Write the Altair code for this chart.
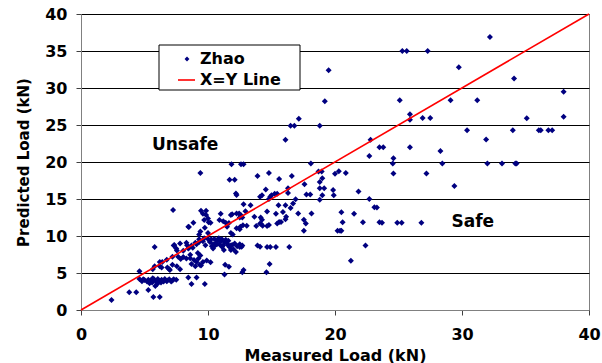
import altair as alt
import pandas as pd

# Measured vs predicted load (kN) for the "Zhao" series
MEASURED = [
    2.4, 3.8, 4.35, 5.3, 5.7, 6.2, 4.6, 5.8, 7.25,
    4.6, 4.8, 5.0, 5.2, 5.3, 5.5, 5.6, 5.75, 5.9, 6.0, 6.05, 6.2, 6.35, 6.5, 6.6, 6.8, 6.95, 7.1, 7.3, 7.5,
    5.85, 5.4, 6.3, 4.9, 5.65, 6.1, 6.75, 7.2,
    5.65, 5.8, 6.2, 6.35, 6.8, 6.95, 7.2, 6.4, 6.75, 6.2, 7.0, 7.55, 7.8,
    7.3, 7.55, 7.35, 7.5, 7.8, 8.3, 8.35, 8.05, 8.6, 7.2, 7.65, 7.85, 8.05, 8.3, 8.6, 8.9, 9.1, 9.25, 9.4,
    9.2, 9.45, 9.6, 9.9, 10.2, 8.7, 9.0, 9.35,
    8.45, 9.1, 8.7, 9.75,
    8.45, 8.85, 9.45, 9.85, 9.3, 9.85, 10.05, 9.75, 9.4, 9.6, 9.7, 10.0, 10.2, 9.4, 10.0,
    8.8, 8.5, 9.0, 9.3, 9.6, 9.8, 10.0, 10.15, 10.3, 10.4, 8.45, 8.7, 9.1, 9.3, 9.7, 10.25, 10.4, 10.55,
    10.7, 10.95, 11.1, 11.25,
    10.5, 10.7, 10.85, 11.0, 11.1, 11.3, 11.4, 11.5, 11.6, 10.6, 10.9, 11.2, 11.7, 11.9, 12.1, 12.3, 12.5,
    12.7, 12.0, 11.8, 12.2, 11.6, 11.8, 12.5, 12.65,
    11.3, 11.65, 11.35, 12.8, 12.7,
    11.85, 12.6, 12.8, 11.7, 12.1, 12.2, 12.25,
    12.8, 13.35, 12.95, 12.45, 12.6, 12.25, 11.9, 11.8, 12.5, 12.7, 12.55, 12.75, 12.25, 12.5,
    11.0, 10.9, 11.2, 11.4, 11.65, 11.5, 8.5, 11.8, 11.95, 13.05,
    13.65, 14.15, 14.25, 14.1, 13.8, 14.2, 14.3,
    13.9, 14.8, 15.6, 16.6, 17.6, 18.7, 18.95, 19.0, 18.8, 20.0, 20.3, 20.85, 21.85, 18.8, 19.15, 19.0,
    18.8, 19.85, 19.9, 22.7, 23.1, 20.5, 20.6, 21.5, 22.2, 23.5, 20.2, 20.4, 20.5, 22.4, 21.25,
    18.15, 17.7, 17.55, 17.55, 17.1, 16.9, 16.7, 17.75, 18.05, 16.3, 16.3, 14.1, 14.25, 14.55, 14.8, 14.9,
    15.0, 15.25, 15.45, 15.55, 16.1, 16.5, 15.9, 14.65, 15.35, 15.6, 15.45, 15.75, 16.1, 16.15, 14.8, 14.65,
    13.9, 14.1, 14.65, 14.9, 15.35, 16.4, 14.85, 14.6,
    17.15, 16.5, 16.8, 18.8, 16.1, 18.1, 19.2, 19.5, 22.7, 22.8, 23.5, 23.8,
    32.2, 25.3, 25.65, 27.3, 29.75, 34.1, 38.0, 25.1, 29.1, 31.2, 25.9, 25.9, 26.9, 27.5, 35.1, 38.0,
    30.4, 34.0, 36.05, 36.2, 36.8, 37.1, 31.9, 25.9, 24.6, 28.3, 28.45, 24.55, 32.0, 33.15, 34.2, 34.3,
    24.6, 27.2, 29.4, 23.7, 24.9, 25.25, 26.8, 23.3,
]
PREDICTED = [
    1.35, 2.4, 2.4, 2.7, 1.75, 1.75, 5.25, 8.5, 13.5,
    4.2, 3.9, 4.05, 3.85, 4.1, 4.0, 3.7, 4.15, 3.9, 3.5, 4.2, 3.95, 4.1, 3.85, 4.2, 4.0, 4.15, 3.85, 4.15, 4.1,
    3.25, 3.6, 3.7, 4.15, 4.3, 4.0, 3.9, 4.0,
    5.5, 5.9, 5.9, 5.75, 5.75, 5.5, 6.1, 6.5, 6.8, 6.5, 5.4, 5.9, 5.5,
    8.7, 8.05, 8.8, 8.3, 9.0, 9.1, 8.75, 8.0, 7.45, 7.2, 7.2, 6.9, 7.15, 6.95, 7.0, 6.75, 6.5, 6.95, 7.35,
    7.7, 6.0, 6.5, 6.7, 6.45, 6.2, 5.9, 6.1,
    4.4, 4.4, 3.5, 3.5,
    11.25, 11.8, 13.4, 13.4, 10.2, 12.85, 11.85, 11.1, 18.5, 13.0, 12.15, 12.35, 11.8, 10.6, 10.4,
    8.4, 8.4, 9.1, 9.2, 9.3, 8.75, 9.6, 9.2, 8.6, 8.3, 8.3, 8.7, 8.9, 9.55, 9.7, 9.55, 8.9, 8.7,
    8.9, 9.25, 8.55, 8.1,
    9.6, 9.4, 9.7, 9.3, 9.55, 9.2, 9.5, 9.0, 9.35, 9.0, 8.9, 8.75, 8.5, 8.8, 9.0, 8.6, 8.9,
    8.7, 8.2, 8.1, 7.85, 8.7, 8.7, 8.5, 8.55,
    4.8, 5.85, 6.1, 5.4, 5.1,
    19.7, 19.7, 19.7, 17.6, 17.6, 15.75, 15.55,
    14.3, 14.15, 13.35, 13.05, 12.8, 13.05, 12.95, 12.85, 12.5, 12.5, 11.25, 11.45, 11.05, 10.9,
    13.0, 12.15, 12.0, 11.8, 11.75, 11.25, 11.2, 10.4, 10.2, 11.4,
    12.6, 12.5, 12.2, 11.7, 11.35, 11.6, 11.4,
    18.1, 18.5, 17.7, 18.1, 17.0, 18.7, 18.7, 17.8, 17.3, 18.4, 18.75, 18.5, 16.0, 16.45, 16.45, 15.5,
    14.9, 16.2, 15.5, 15.0, 13.9, 13.2, 11.85, 13.0, 11.85, 11.85, 10.7, 10.7, 10.7, 8.7, 6.65,
    13.05, 11.7, 10.7, 12.2, 13.05, 14.95, 14.4, 15.6, 15.6, 16.45, 15.8, 15.3, 15.5, 16.3, 15.0, 15.3,
    15.5, 15.7, 15.7, 14.15, 14.15, 13.8, 13.25, 13.3, 13.0, 11.9, 11.7, 11.9, 12.25, 12.6, 11.5, 11.35,
    8.7, 8.55, 8.5, 8.5, 8.5, 8.5, 6.2, 5.1,
    25.85, 24.9, 24.9, 24.9, 23.0, 19.8, 28.2, 32.4, 20.8, 23.0, 22.0, 22.0,
    36.9, 35.0, 35.0, 35.0, 32.8, 31.3, 29.5, 28.35, 28.35, 28.35, 26.45, 25.7, 25.95, 25.95, 25.9, 26.1,
    24.3, 24.3, 24.3, 24.3, 24.3, 24.3, 23.05, 22.0, 20.5, 21.5, 19.8, 19.8, 19.8, 19.8, 19.8, 19.8,
    18.45, 18.45, 16.75, 11.8, 11.8, 11.8, 11.8, 13.85,
]

# Reference line where predicted equals measured
XY_LINE = [0, 40]

# Region annotations
REGION_TEXT = ["Unsafe", "Safe"]
REGION_X = [8.2, 30.85]
REGION_Y = [22.3, 11.9]

SERIES_NAMES = ["Zhao", "X=Y Line"]

X_TICKS = [0, 10, 20, 30, 40]
Y_TICKS = [0, 5, 10, 15, 20, 25, 30, 35, 40]

NAVY = "#000080"
RED = "#FF0000"
FONT = "DejaVu Sans"

points_df = pd.DataFrame({"measured": MEASURED, "predicted": PREDICTED})
line_df = pd.DataFrame({"measured": XY_LINE, "predicted": XY_LINE})
region_df = pd.DataFrame({"label": REGION_TEXT, "x": REGION_X, "y": REGION_Y})
one_row = pd.DataFrame({"k": [0]})

x_scale = alt.Scale(domain=[0, 40], nice=False, zero=True)
y_scale = alt.Scale(domain=[0, 40], nice=False, zero=True)

x_axis = alt.Axis(
    values=X_TICKS, tickCount=5, grid=False, title="Measured Load (kN)",
    titleX=254, titleY=50, titleBaseline="alphabetic", titleFontSize=16,
    labelPadding=11, labelOverlap=False, labelFlush=False,
)
y_axis = alt.Axis(
    values=Y_TICKS, tickCount=9, grid=True, title="Predicted Load (kN)",
    titleX=-58, titleY=148, titleAngle=270, titleBaseline="middle", titleAlign="center",
    titleFontSize=15, labelPadding=9, labelOverlap=False, labelFlush=False,
)


def xy(xfield, yfield):
    """Shared positional encodings so every layer uses the same scales and axes."""
    return dict(
        x=alt.X(xfield, type="quantitative", scale=x_scale, axis=x_axis),
        y=alt.Y(yfield, type="quantitative", scale=y_scale, axis=y_axis),
    )


scatter = alt.Chart(points_df).mark_point(
    shape="diamond", filled=True, size=36, color=NAVY, opacity=1
).encode(**xy("measured", "predicted"))

xy_line = alt.Chart(line_df).mark_line(color=RED, strokeWidth=1.6).encode(
    **xy("measured", "predicted")
)

regions = alt.Chart(region_df).mark_text(
    font=FONT, fontWeight="bold", fontSize=17, color="black", align="center", baseline="middle"
).encode(text="label:N", **xy("x", "y"))

# Legend box drawn inside the plot area
legend_box = alt.Chart(one_row).mark_rect(
    fill="white", stroke="black", strokeWidth=1
).encode(x=alt.value(78), x2=alt.value(219), y=alt.value(31), y2=alt.value(76))

legend_marker = alt.Chart(one_row).mark_point(
    shape="diamond", filled=True, size=24, color=NAVY, opacity=1
).encode(x=alt.value(106), y=alt.value(45))

legend_line = alt.Chart(one_row).mark_rule(color=RED, strokeWidth=1.6).encode(
    x=alt.value(97), x2=alt.value(114), y=alt.value(66)
)

legend_text_1 = alt.Chart(one_row).mark_text(
    font=FONT, fontWeight="bold", fontSize=16, align="left", baseline="middle", color="black"
).encode(x=alt.value(119), y=alt.value(45), text=alt.value(SERIES_NAMES[0]))

legend_text_2 = alt.Chart(one_row).mark_text(
    font=FONT, fontWeight="bold", fontSize=16, align="left", baseline="middle", color="black"
).encode(x=alt.value(119), y=alt.value(66), text=alt.value(SERIES_NAMES[1]))

chart = alt.layer(
    scatter, xy_line, regions, legend_box, legend_marker, legend_line, legend_text_1, legend_text_2
).properties(
    width=508, height=296,
    autosize=alt.AutoSizeParams(type="none"),
    padding={"left": 81, "top": 14, "right": 13, "bottom": 53},
    background="white",
).configure_view(
    stroke="#808080", strokeWidth=1
).configure_axis(
    labelFont=FONT, labelFontWeight="bold", labelFontSize=16, labelColor="black",
    titleFont=FONT, titleFontWeight="bold", titleColor="black",
    domainColor="#808080", domainWidth=1, tickColor="#404040", tickSize=5, tickWidth=1,
    gridColor="#000000", gridWidth=1, gridOpacity=1,
)

chart.save("out.html", embed_options={"renderer": "svg", "actions": False})
